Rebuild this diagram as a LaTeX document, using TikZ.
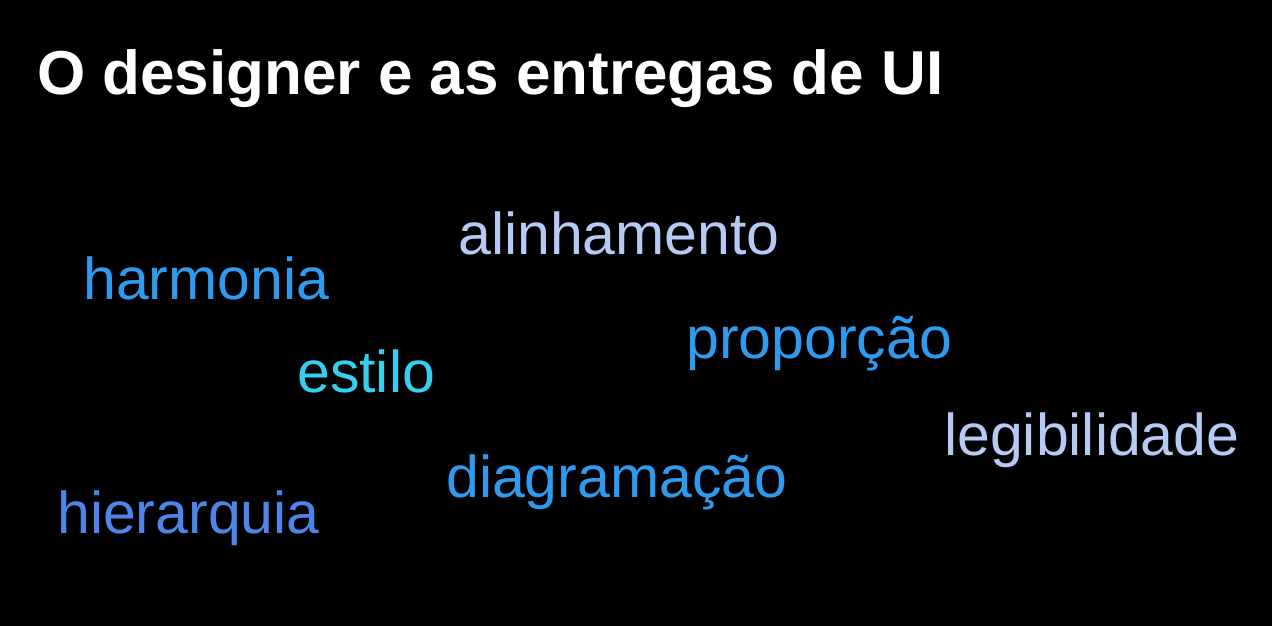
\documentclass[tikz,border=0pt]{standalone}
\usepackage{fontspec}
\setmainfont{Liberation Sans}
\usetikzlibrary{positioning}
\definecolor{skyblue}{HTML}{2F9BEF}
\definecolor{cyanblue}{HTML}{35D0F0}
\definecolor{deepblue}{HTML}{4D86EB}
\definecolor{paleblue}{HTML}{B6CAF4}
\tikzset{
  word/.style={anchor=base west, inner sep=0pt, font=\fontsize{59}{61}\selectfont},
  heading/.style={anchor=base west, inner sep=0pt, text=white, font=\fontsize{62}{64}\selectfont\bfseries}
}

\begin{document}
\begin{tikzpicture}[x=1pt,y=-1pt]
    \fill[black] (0,0) rectangle (1272,626);
    \node[heading] (title) at (37,94) {O designer e as entregas de UI};

    \node[word, text=paleblue] (alinhamento) at (458,254) {alinhamento};
    \node[word, text=skyblue] (harmonia) at (83,299) {harmonia};
    \node[word, text=skyblue] (proporcao) at (686,358) {proporção};
    \node[word, text=cyanblue] (estilo) at (297,392) {estilo};
    \node[word, text=paleblue] (legibilidade) at (944,455) {legibilidade};
    \node[word, text=skyblue] (diagramacao) at (446,497) {diagramação};
    \node[word, text=deepblue] (hierarquia) at (57,533) {hierarquia};
  \end{tikzpicture}
\end{document}
